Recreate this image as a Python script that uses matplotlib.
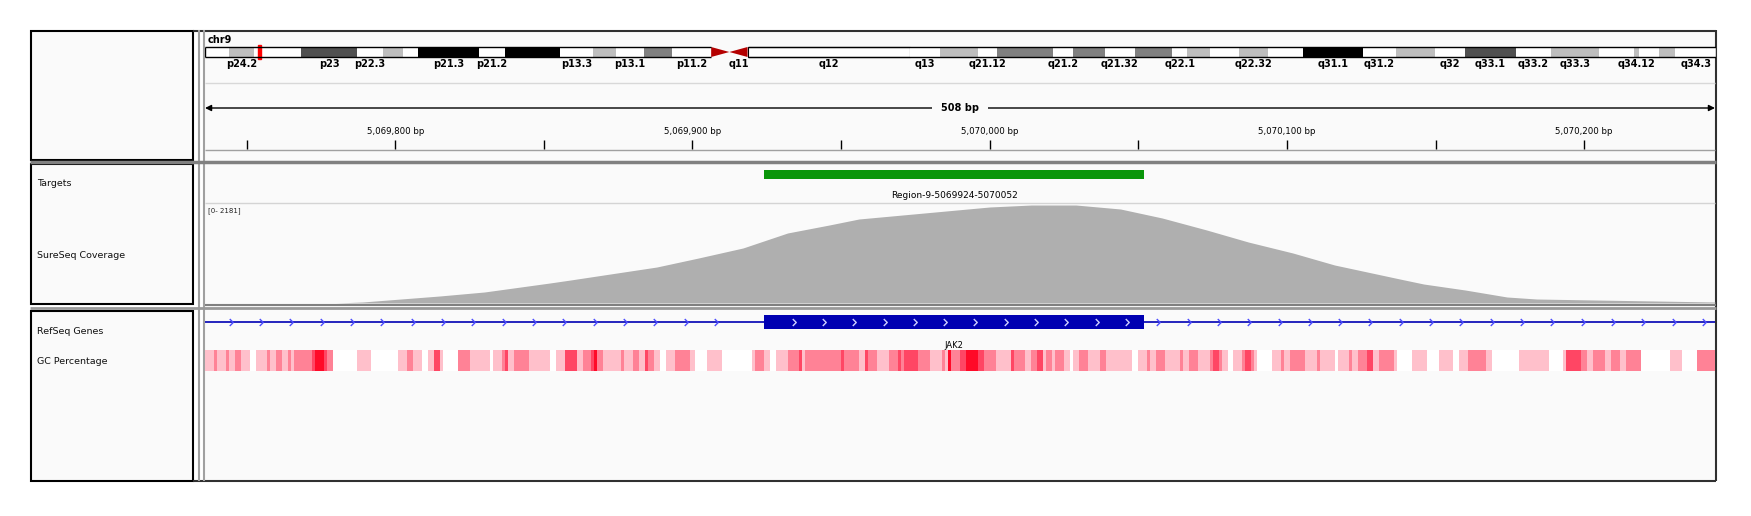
import numpy as np
import matplotlib.pyplot as plt
from matplotlib.patches import Rectangle, Polygon
from matplotlib.path import Path

W, H = 1751, 516

# chr9 ideogram (hg19 bands, Mb)
chrom_name = "chr9"
chrom_len = 141.2
band_names = ["p24.3", "p24.2", "p24.1", "p23", "p22.3", "p22.2", "p22.1", "p21.3", "p21.2",
              "p21.1", "p13.3", "p13.2", "p13.1", "p12", "p11.2", "p11.1", "q11", "q12", "q13",
              "q21.11", "q21.12", "q21.13", "q21.2", "q21.31", "q21.32", "q21.33", "q22.1",
              "q22.2", "q22.31", "q22.32", "q22.33", "q31.1", "q31.2", "q31.3", "q32", "q33.1",
              "q33.2", "q33.3", "q34.11", "q34.12", "q34.13", "q34.2", "q34.3"]
band_starts = [0, 2.2, 4.6, 9.0, 14.2, 16.6, 18.5, 19.9, 25.6, 28.0, 33.2, 36.3, 38.4, 41.0,
               43.6, 47.3, 49.0, 50.7, 65.9, 68.7, 72.2, 74.0, 79.2, 81.1, 84.1, 86.9, 90.4,
               91.8, 93.9, 96.6, 99.3, 102.6, 108.2, 111.3, 114.9, 117.7, 122.5, 125.8, 130.3,
               133.5, 134.0, 135.9, 137.4]
band_stains = ["gneg", "gpos25", "gneg", "gpos75", "gneg", "gpos25", "gneg", "gpos100", "gneg",
               "gpos100", "gneg", "gpos25", "gneg", "gpos50", "gneg", "acen", "acen", "gvar",
               "gneg", "gpos25", "gneg", "gpos50", "gneg", "gpos50", "gneg", "gpos50", "gneg",
               "gpos25", "gneg", "gpos25", "gneg", "gpos100", "gneg", "gpos25", "gneg", "gpos75",
               "gneg", "gpos25", "gneg", "gpos25", "gneg", "gpos25", "gneg"]
shown_labels = ["p24.2", "p23", "p22.3", "p21.3", "p21.2", "p13.3", "p13.1", "p11.2", "q11",
                "q12", "q13", "q21.12", "q21.2", "q21.32", "q22.1", "q22.32", "q31.1", "q31.2",
                "q32", "q33.1", "q33.2", "q33.3", "q34.12", "q34.3"]
view_mb = 5.07

# locus view
view_start = 5069736
view_len = 508
target_start, target_end = 5069924, 5070052
target_name = "Region-9-5069924-5070052"
gene_name = "JAK2"
exon_start, exon_end = 5069924, 5070052

# coverage
cov_max = 2181
cov_pos = [5069780, 5069789, 5069815, 5069830, 5069852, 5069859, 5069888, 5069902, 5069917,
           5069932, 5069946, 5069956, 5069978, 5070000, 5070014, 5070029, 5070044, 5070058,
           5070073, 5070087, 5070102, 5070116, 5070138, 5070146, 5070160, 5070174, 5070184,
           5070244]
cov_val = [0, 22, 153, 240, 436, 502, 785, 981, 1200, 1527, 1701, 1832, 1963, 2094, 2137, 2137,
           2050, 1854, 1592, 1330, 1090, 829, 523, 414, 283, 131, 87, 22]

# GC percentage: segment starts (bp from view start) and colour level 0..4
gc_start = [0, 3, 4, 7, 8, 10, 12, 15, 17, 21, 22, 24, 26, 28, 29, 30, 36, 37, 40, 41, 43, 51,
            56, 65, 68, 70, 73, 75, 77, 79, 80, 85, 89, 96, 97, 100, 101, 102, 104, 109, 116,
            118, 121, 125, 127, 130, 131, 132, 134, 140, 141, 144, 146, 148, 149, 151, 153, 155,
            158, 163, 165, 169, 174, 184, 185, 188, 190, 192, 196, 200, 201, 202, 214, 215, 220,
            222, 223, 226, 230, 233, 234, 235, 240, 244, 248, 249, 250, 251, 254, 256, 260, 262,
            266, 271, 272, 276, 278, 280, 282, 283, 285, 286, 289, 291, 292, 294, 297, 301, 303,
            312, 314, 317, 318, 320, 323, 328, 329, 331, 334, 338, 339, 341, 342, 344, 346, 349,
            350, 352, 353, 354, 359, 362, 363, 365, 370, 374, 375, 380, 381, 385, 386, 388, 391,
            393, 395, 400, 401, 406, 411, 415, 420, 422, 425, 431, 433, 442, 452, 457, 458, 463,
            465, 467, 471, 473, 476, 478, 483, 493, 497, 502]
gc_level = [1, 2, 1, 2, 1, 2, 1, 0, 1, 2, 1, 2, 1, 2, 1, 2, 3, 4, 3, 2, 0, 1,
            0, 1, 2, 1, 0, 1, 3, 1, 0, 2, 1, 0, 1, 2, 3, 1, 2, 1, 0,
            1, 3, 1, 2, 3, 4, 2, 1, 2, 1, 2, 1, 3, 2, 1, 0, 1,
            2, 1, 0, 1, 0, 1, 2, 1, 0, 1, 2, 3, 1, 2, 3, 2, 1,
            3, 2, 1, 2, 3, 2, 3, 2, 1, 2, 1, 4, 2, 3, 4, 3, 2,
            1, 3, 2, 1, 2, 3, 1, 2, 1, 2, 1, 0, 1, 2, 1, 2, 1,
            0, 1, 2, 1, 2, 1, 2, 1, 2, 1, 2, 3, 2, 1, 0, 1, 2,
            3, 2, 1, 0, 1, 2, 1, 2, 1, 2, 1, 0, 1, 2, 1, 2, 3,
            1, 2, 1, 0, 1, 0, 1, 0, 1, 2, 1, 0, 1, 0, 1, 3, 2,
            1, 2, 1, 2, 1, 2, 0, 1, 0, 2]

track_names = ["Targets", "SureSeq Coverage", "RefSeq Genes", "GC Percentage"]

stain_colors = {"gneg": "white", "gvar": "white", "gpos25": "#BEBEBE", "gpos50": "#808080",
                "gpos75": "#505050", "gpos100": "black"}
gc_colors = ["#FFFFFF", "#FFC0CB", "#FF8296", "#FF4664", "#FF0A28"]
panel_bg = "#FAFAFA"

fig = plt.figure(figsize=(W / 100, H / 100), dpi=100)
bg = fig.add_axes([0, 0, 1, 1])
bg.set_xlim(0, W)
bg.set_ylim(H, 0)
bg.axis("off")


def px_axes(x0, y0, x1, y1):
    ax = fig.add_axes([x0 / W, 1 - y1 / H, (x1 - x0) / W, (y1 - y0) / H])
    ax.set_facecolor("none")
    ax.axis("off")
    return ax


# frames
bg.add_patch(Rectangle((205, 30), 1510, 451, facecolor=panel_bg, edgecolor="none"))
for y0, h in [(30.5, 129), (163.5, 140.5), (310.5, 170)]:
    bg.add_patch(Rectangle((30.5, y0), 162, h, facecolor=panel_bg, edgecolor="black", lw=1.5))
bg.hlines(30.5, 193, 1716, color="#303030", lw=1.5)
bg.hlines(480.5, 193, 1716, color="#303030", lw=1.5)
bg.vlines(1715.5, 30, 481, color="#303030", lw=1.5)
bg.vlines([198.5, 203.5], 30, 481, color="#A0A0A0", lw=1.5)
bg.hlines(161.5, 30, 1716, color="#808080", lw=2.5)
bg.hlines(304.5, 205, 1716, color="#808080", lw=1.5)
bg.hlines(307.5, 30, 1716, color="#999999", lw=2)
bg.hlines(83, 205, 1715, color="#D8D8D8", lw=1)
bg.hlines(149.5, 205, 1715, color="#A0A0A0", lw=1)
bg.hlines(203, 205, 1715, color="#D4D4D4", lw=1)

# track names
name_y = [183, 255, 331, 361]
for name, y in zip(track_names, name_y):
    bg.text(37, y, name, fontsize=6.8, va="center", ha="left", color="#111111")

bg.text(208, 40, chrom_name, fontsize=7, fontweight="bold", va="center")
bg.text(208, 211, "[0- %d]" % cov_max, fontsize=5, va="center", color="#222222")

# ideogram
ideo = px_axes(205, 40, 1716, 70)
ideo.set_xlim(0, chrom_len)
ideo.set_ylim(70, 40)
band_ends = band_starts[1:] + [chrom_len]
top, bot = 47, 57
for name, s, e, stain in zip(band_names, band_starts, band_ends, band_stains):
    if stain == "acen":
        if name.startswith("p"):
            pts = [(s, top), (s, bot), (e, (top + bot) / 2)]
        else:
            pts = [(e, top), (e, bot), (s, (top + bot) / 2)]
        ideo.add_patch(Polygon(pts, closed=True, facecolor="#B40000", edgecolor="none"))
    else:
        ideo.add_patch(Rectangle((s, top), e - s, bot - top, facecolor=stain_colors[stain],
                                 edgecolor="black" if stain == "gvar" else "none", lw=0.8))
    if name in shown_labels:
        ideo.text((s + e) / 2, 64, name, fontsize=7, fontweight="bold", ha="center",
                  va="center")
acen_s = band_starts[band_stains.index("acen")]
acen_e = band_ends[len(band_stains) - 1 - band_stains[::-1].index("acen")]
for x0, x1 in [(0, acen_s), (acen_e, chrom_len)]:
    ideo.hlines([top, bot], x0, x1, color="black", lw=1)
ideo.vlines([0, chrom_len], top, bot, color="black", lw=1)
ideo.add_patch(Rectangle((view_mb - 0.15, 45), 0.3, 14, facecolor="red", edgecolor="red", lw=1))

# ruler
view_end = view_start + view_len
ruler = px_axes(205, 85, 1715, 160)
ruler.set_xlim(view_start, view_end)
ruler.set_ylim(160, 85)
ruler.annotate("", xy=(view_start, 108), xytext=(view_end, 108),
               arrowprops=dict(arrowstyle="<|-|>", mutation_scale=9, lw=1, color="black",
                               shrinkA=0, shrinkB=0))
ruler.text(view_start + view_len / 2, 108, "%d bp" % view_len, fontsize=7, fontweight="bold",
           ha="center", va="center",
           bbox=dict(boxstyle="square,pad=0.9", facecolor=panel_bg, edgecolor="none"))
first_tick = (view_start // 50 + 1) * 50
for bp in range(first_tick, view_end, 50):
    ruler.vlines(bp, 140, 149, color="black", lw=1)
    if bp % 100 == 0:
        ruler.text(bp, 131, f"{bp:,} bp", fontsize=6.2, ha="center", va="center")

# targets
tgt = px_axes(205, 163, 1715, 203)
tgt.set_xlim(view_start, view_end)
tgt.set_ylim(203, 163)
tgt.broken_barh([(target_start, target_end - target_start)], (170, 9), facecolors="#0A960A")
tgt.text((target_start + target_end) / 2, 196, target_name, fontsize=6.5, ha="center",
         va="center")

# coverage
cov = px_axes(205, 203, 1715, 303)
cov.set_xlim(view_start, view_end)
cov.set_ylim(0, cov_max)
cov.fill_between(cov_pos, cov_val, color="#AFAFAF", lw=0)

# genes + GC
gene = px_axes(205, 310, 1715, 481)
gene.set_xlim(view_start, view_end)
gene.set_ylim(481, 310)
gene.hlines(322, view_start, view_end, color="#0000B2", lw=1.2)
gene.broken_barh([(exon_start, exon_end - exon_start)], (315, 14), facecolors="#0000B2")
chev = Path([(-0.5, 1), (0.5, 0), (-0.5, -1)], [Path.MOVETO, Path.LINETO, Path.LINETO])
step = 10.2
left = np.arange(view_start + 8.7, exon_start - 8, step)
right = np.arange(exon_end + 4.7, view_end, step)
inner = np.arange(exon_start + 10, exon_end - 3, step)
gene.plot(np.concatenate([left, right]), np.full(len(left) + len(right), 322), ls="none",
          marker=chev, ms=5, mfc="none", mec="#4B4BFF", mew=1)
gene.plot(inner, np.full(len(inner), 322), ls="none", marker=chev, ms=5, mfc="none",
          mec="#D0D0FF", mew=1)
gene.text((exon_start + exon_end) / 2, 345, gene_name, fontsize=6, ha="center", va="center")

gc_end = gc_start[1:] + [view_len]
for s, e, lv in zip(gc_start, gc_end, gc_level):
    gene.broken_barh([(view_start + s, e - s)], (350, 21), facecolors=gc_colors[lv])

fig.savefig("out.png", dpi=100)
